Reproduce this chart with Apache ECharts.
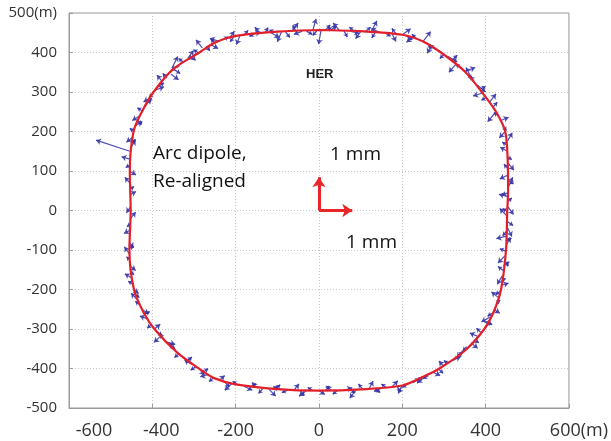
<!DOCTYPE html>
<html>
<head>
<meta charset="utf-8">
<script src="https://cdn.jsdelivr.net/npm/echarts@6/dist/echarts.min.js"></script>
<style>html,body{margin:0;padding:0;background:#fff;}#c{width:611px;height:441px;}</style>
</head>
<body>
<div id="c"></div>
<script>
// Ring (red line) points, clockwise from top (metres)
const ringX = [0,100,200,250,293,350,391,425,447,453,454,452,449,437,420,397,350,289,250,200,100,0,-100,-200,-250,-287,-340,-392,-420,-444,-455,-452,-454,-445,-425,-397,-350,-287,-250,-200,-100,0];
const ringY = [457,454,445,428,400,352,300,250,200,128,50,0,-100,-200,-255,-300,-355,-400,-421,-443,-453,-456,-452,-440,-425,-401,-360,-304,-260,-200,-100,0,100,200,250,300,358,400,425,442,453,457];

// Displacement arrows (coarse): base (x,y) and displacement (dx,dy) in plotted units
const arrowX  = [-280,-260,-240,-215,-190,-165,-140,-115,-90,-65,-40,-15,5,25,50,75,100,125,150,175,200,225,250,270,
  293,310,330,350,365,380,395,410,425,437,447,452,
  453,454,454,455,454,453,452,451,450,449,446,443,440,437,
  430,420,410,397,380,365,345,320,300,275,
  250,225,200,175,150,120,90,60,30,0,-30,-60,-90,-120,-150,-180,-210,-240,-265,-287,
  -305,-325,-345,-365,-380,-395,-410,-425,-437,-445,
  -450,-454,-455,-455,-454,-452,-452,-453,-454,-455,-454,-452,-448,
  -440,-430,-418,-405,-392,-375,-355,-335,-315,-297,-353,-454];
const arrowY  = [412,420,428,436,442,446,448,450,452,453,454,455,456,455,455,454,453,452,450,448,445,438,428,418,
  400,390,372,352,338,318,298,275,250,228,200,175,
  150,120,90,60,35,10,-15,-40,-65,-90,-115,-140,-165,-190,
  -220,-250,-270,-298,-318,-335,-355,-380,-395,-410,
  -425,-436,-443,-447,-450,-452,-453,-455,-456,-456,-456,-455,-454,-452,-449,-445,-439,-430,-415,-401,
  -390,-372,-353,-333,-318,-300,-275,-250,-225,-200,
  -170,-140,-110,-80,-50,-20,10,40,70,100,130,160,185,
  215,240,262,285,305,325,345,365,385,396,360,150];
const arrowDX = [-15,18,-22,12,-8,25,-14,20,-10,15,-20,8,-6,18,-16,22,-12,14,-25,10,20,-15,18,-10,
  -30,22,-18,25,-12,20,-25,15,-20,18,-14,12,
  -18,14,-20,10,-22,14,-18,12,-24,10,-16,14,-12,18,
  -16,14,-20,12,-18,16,-14,20,-12,16,
  -14,18,-10,14,-18,10,-16,20,-12,14,-18,12,-20,16,-10,20,-16,14,-20,12,
  -18,16,-14,20,-16,14,-20,16,-14,12,
  -16,14,-12,10,-14,12,-10,14,-12,16,-20,12,-14,
  16,-18,14,-16,20,-14,18,-20,14,-16,14,-81];
const arrowDY = [20,-10,8,18,-22,5,16,-12,-25,22,-8,30,-35,12,20,-6,-18,28,10,-20,15,-12,25,-20,
  18,-14,-22,10,24,-18,-8,20,-25,8,-16,22,
  10,-18,-10,24,6,-20,20,-26,-6,22,-18,10,-22,6,
  14,-10,-12,20,8,-14,-18,10,14,-8,
  -12,10,-20,16,-8,20,-22,6,12,-10,-14,16,8,-18,14,-10,-16,12,-6,-16,
  12,-14,18,-6,-16,12,8,-12,16,-10,
  10,-12,18,-14,-8,16,-16,8,14,-10,6,18,-12,
  10,-12,20,-10,8,18,-14,-10,20,-14,30,28];

// Displacement arrows (fine, short ones)
const fineX  = [-270,-250,-230,-205,-180,-155,-130,-105,-80,-55,-30,-5,15,35,60,85,110,135,160,185,210,235,260,
  300,320,340,357,372,388,402,418,430,442,
  452,453,454,455,454,453,453,452,451,450,448,445,442,438,434,
  425,415,404,388,372,355,333,310,288,262,
  238,212,188,162,135,105,75,45,15,-15,-45,-75,-105,-135,-165,-195,-225,-252,-276,
  -296,-315,-335,-355,-372,-388,-402,-418,-431,-441,
  -448,-452,-454,-454,-453,-452,-454,-450,
  -444,-435,-424,-411,-398,-384,-365,-345,-325,-306,-289];
const fineY  = [416,424,432,439,444,447,449,451,452,453,454,455,456,455,455,454,452,451,449,447,442,434,423,
  395,381,362,345,328,308,287,262,240,214,
  165,135,105,75,45,22,-3,-28,-52,-78,-103,-128,-152,-178,-205,
  -235,-260,-283,-308,-327,-345,-367,-388,-402,-418,
  -431,-440,-445,-449,-451,-453,-454,-455,-456,-456,-456,-455,-453,-451,-447,-442,-435,-423,-408,
  -396,-381,-362,-343,-326,-308,-288,-262,-238,-212,
  -185,-155,-125,-95,-35,55,115,172,
  200,228,252,274,296,315,335,355,375,390,399];
const fineDX = [8,-10,12,-8,10,-12,8,-14,10,-8,14,-10,12,-14,8,-12,14,-8,12,-10,14,-12,10,
  -10,12,-12,10,-8,12,-12,10,-10,8,
  -12,10,-10,12,-14,10,-12,14,-10,12,-14,10,-12,10,-10,
  10,-10,12,-10,12,-10,12,-10,10,-12,
  10,-12,8,-12,12,-10,12,-12,10,-12,10,-14,12,-10,14,-12,10,-12,10,
  -12,10,-12,10,-10,12,-10,12,-10,10,
  -10,8,-8,10,-8,8,-10,10,
  -10,10,-12,10,-10,12,-10,12,-12,10,-12];
const fineDY = [-12,10,8,-12,12,-6,14,6,-14,16,-8,-12,14,8,-16,10,12,-14,-8,14,-10,12,-12,
  -10,12,8,-12,12,6,-8,12,8,-12,
  8,-6,12,-8,-6,10,8,-10,-12,8,6,-12,10,6,-8,
  8,-8,-6,10,-8,-10,8,8,-10,-8,
  10,-8,-14,10,-10,14,-8,-10,12,8,-12,-6,12,-12,8,10,-12,-10,8,
  -8,10,-10,-8,12,-8,-10,6,8,-8,
  6,-8,8,4,-6,6,-6,8,
  8,-10,8,10,-10,8,12,-8,10,-10,8];

// Scale arrows (1 mm) : origin and tip
const scaleUp = [[0,0],[0,84]];
const scaleRight = [[0,0],[80,0]];

// Axis ticks
const xTicks = {min:-600, max:600, step:200};
const yTicks = {min:-500, max:500, step:100};

const ring = ringX.map((x,i)=>[x, ringY[i]]);
const arrows = arrowX.map((x,i)=>({coords:[[x, arrowY[i]],[x+arrowDX[i], arrowY[i]+arrowDY[i]]]}));
const fine = fineX.map((x,i)=>({coords:[[x, fineY[i]],[x+fineDX[i], fineY[i]+fineDY[i]]]}));

const chart = echarts.init(document.getElementById('c'), null, {renderer:'canvas'});
const FONT = '"Open Sans", "DejaVu Sans", sans-serif';
chart.setOption({
  animation:false,
  backgroundColor:'#fff',
  grid:{left:69, right:41, top:13, bottom:33, show:true, borderColor:'#9a9a9a', borderWidth:1, containLabel:false},
  xAxis:{
    type:'value', min:xTicks.min, max:xTicks.max, interval:xTicks.step,
    axisLine:{show:true, onZero:false, lineStyle:{color:'#9a9a9a'}},
    axisTick:{show:true, inside:true, length:4, lineStyle:{color:'#9a9a9a'}},
    splitLine:{show:true, lineStyle:{color:'#c8c8c8', type:[1,2], width:1}},
    axisLabel:{
      margin:14, color:'#333', fontSize:18, fontFamily:FONT, showMinLabel:true, showMaxLabel:true,
      formatter:function(v){
        if(v===-600) return '{s50|-600}';
        if(v===-400) return '{s18|-400}';
        if(v===600) return '{s20|600(m)}';
        return '{n|'+v+'}';
      },
      rich:{
        n:{fontSize:18, fontFamily:FONT, color:'#333'},
        s50:{fontSize:18, fontFamily:FONT, color:'#333', padding:[0,0,0,50]},
        s18:{fontSize:18, fontFamily:FONT, color:'#333', padding:[0,0,0,18]},
        s20:{fontSize:18, fontFamily:FONT, color:'#333', padding:[0,0,0,20]}
      }
    }
  },
  yAxis:{
    type:'value', min:yTicks.min, max:yTicks.max, interval:yTicks.step,
    axisLine:{show:true, onZero:false, lineStyle:{color:'#9a9a9a'}},
    axisTick:{show:true, inside:true, length:4, lineStyle:{color:'#9a9a9a'}},
    splitLine:{show:true, lineStyle:{color:'#c8c8c8', type:[1,2], width:1}},
    axisLabel:{
      margin:12, color:'#333', fontSize:15, fontFamily:FONT, showMinLabel:true, showMaxLabel:true,
      formatter:function(v){ return v===500 ? '500(m)' : String(v); }
    }
  },
  series:[
    {
      type:'lines', coordinateSystem:'cartesian2d', silent:true, z:2,
      data:arrows, symbol:['none','arrow'], symbolSize:5,
      lineStyle:{color:'#3b3bab', width:1.2, opacity:0.9}
    },
    {
      type:'lines', coordinateSystem:'cartesian2d', silent:true, z:2,
      data:fine, symbol:['none','arrow'], symbolSize:4,
      lineStyle:{color:'#3535a8', width:1.3, opacity:0.9}
    },
    {
      type:'line', data:ring, smooth:0.3, showSymbol:false, silent:true, z:3,
      lineStyle:{color:'#e3202a', width:2.2}
    },
    {
      type:'lines', coordinateSystem:'cartesian2d', silent:true, z:4,
      data:[{coords:scaleUp},{coords:scaleRight}], symbol:['none','arrow'], symbolSize:10,
      lineStyle:{color:'#e8262a', width:3, opacity:1}
    }
  ],
  graphic:[
    {type:'text', left:306, top:68, style:{text:'HER', font:'bold 13px "Liberation Sans", Arial, sans-serif', fill:'#222'}},
    {type:'text', left:153, top:140, style:{text:'Arc dipole,\nRe-aligned', font:'19px '+FONT, fill:'#111', lineHeight:28}},
    {type:'text', left:330, top:145, style:{text:'1 mm', font:'19px '+FONT, fill:'#111'}},
    {type:'text', left:346, top:233, style:{text:'1 mm', font:'19px '+FONT, fill:'#111'}}
  ]
});
</script>
</body>
</html>
